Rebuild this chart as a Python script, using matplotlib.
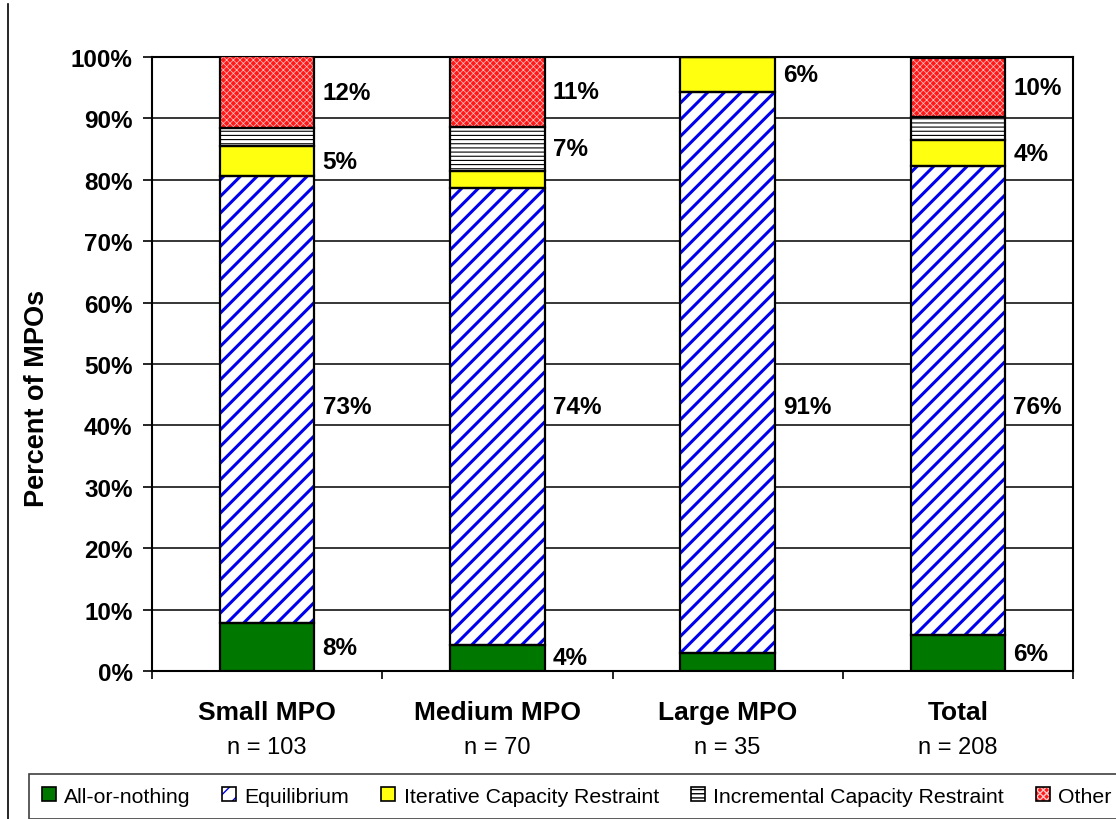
import numpy as np
import matplotlib
matplotlib.use("Agg")
import matplotlib.pyplot as plt
from matplotlib.patches import Patch
from matplotlib.lines import Line2D

plt.rcParams['font.family'] = ['Liberation Sans', 'DejaVu Sans']

# share of MPOs (percent) by assignment method
groups = ["Small MPO", "Medium MPO", "Large MPO", "Total"]
counts = ["n = 103", "n = 70", "n = 35", "n = 208"]
methods = ["All-or-nothing", "Equilibrium", "Iterative Capacity Restraint",
           "Incremental Capacity Restraint", "Other"]
all_or_nothing = [7.8, 4.3, 2.9, 5.8]
equilibrium = [72.8, 74.3, 91.4, 76.4]
iterative = [4.9, 2.9, 5.7, 4.3]
incremental = [2.9, 7.1, 0.0, 3.8]
other = [11.7, 11.4, 0.0, 9.6]

series = [all_or_nothing, equilibrium, iterative, incremental, other]
# face, hatch colour, hatch pattern, hatch width
styles = [
    ("#007800", "#007800", None, 1.0),
    ("white", "#0000ee", "//", 2.2),
    ("#ffff10", "#ffff10", None, 1.0),
    ("white", "black", "----", 0.8),
    ("#ff1a1a", "#ffc4c4", "xxxxx", 0.5),
]
EQ_LABEL_Y = 43  # equilibrium labels sit on one common line

fig = plt.figure(figsize=(11.16, 8.2), dpi=100)
ax = fig.add_axes([152/1116, 1-672/820, 921/1116, 614/820])

x = np.arange(len(groups))
width = 0.41
bottom = np.zeros(len(groups))
for k, (vals, (fc, hc, hatch, hlw)) in enumerate(zip(series, styles)):
    vals = np.array(vals)
    with plt.rc_context({'hatch.linewidth': hlw}):
        ax.bar(x, vals, width, bottom=bottom, color=fc, edgecolor=hc,
               hatch=hatch, linewidth=0, zorder=3)
    ax.bar(x, vals, width, bottom=bottom, fill=False, edgecolor="black",
           linewidth=1.6, zorder=4)
    for xi, v, b in zip(x, vals, bottom):
        if v >= 4:
            ypos = EQ_LABEL_Y if k == 1 else b + v/2
            ax.annotate("%d%%" % round(v), (xi + width/2, ypos),
                        xytext=(6, 0), textcoords="offset points",
                        ha="left", va="center", fontsize=17.5,
                        fontweight="bold", zorder=5)
    bottom += vals

ax.set_xlim(-0.5, 3.5)
ax.set_ylim(0, 100)
ax.set_yticks(np.arange(0, 101, 10))
ax.set_yticklabels(["%d%%" % v for v in range(0, 101, 10)],
                   fontsize=17.5, fontweight="bold")
ax.yaxis.grid(True, color="black", linewidth=1.1, zorder=0)
ax.set_axisbelow(True)
ax.tick_params(axis="y", direction="out", length=6.5, width=1.2, pad=7.5)

ax.set_xticks(x)
ax.set_xticklabels([])
ax.tick_params(axis="x", which="major", length=0)
ax.set_xticks(np.arange(-0.5, 4, 1), minor=True)
ax.tick_params(axis="x", which="minor", direction="out", length=6, width=1.2)

for s in ax.spines.values():
    s.set_linewidth(1.5)

for xi, g, n in zip(x, groups, counts):
    ax.annotate(g, (xi, 0), xycoords=("data", "axes fraction"),
                xytext=(0, -29.5), textcoords="offset points",
                ha="center", va="center", fontsize=19, fontweight="bold")
    ax.annotate(n, (xi, 0), xycoords=("data", "axes fraction"),
                xytext=(0, -54.5), textcoords="offset points",
                ha="center", va="center", fontsize=17)

ax.set_ylabel("Percent of MPOs", fontsize=19.5, fontweight="bold")
ax.yaxis.set_label_coords(-0.111, 0.445)

handles = []
for fc, hc, hatch, hlw in styles:
    with plt.rc_context({'hatch.linewidth': min(hlw, 1.0)}):
        inner = Patch(facecolor=fc, edgecolor=hc, hatch=hatch, linewidth=0)
    outer = Patch(fill=False, edgecolor="black", linewidth=1.2)
    handles.append((inner, outer))

leg = fig.legend(handles, methods, ncol=5, loc="upper left",
                 bbox_to_anchor=(29/1116, 1-775/820), borderaxespad=0,
                 fontsize=15.3, handlelength=0.65, handleheight=0.65,
                 handletextpad=0.4, columnspacing=1.5, borderpad=0.6,
                 fancybox=False, framealpha=1, edgecolor="#404040")
leg.get_frame().set_linewidth(1.2)

fig.add_artist(Line2D([8/1116, 8/1116], [0, 1-5/820], color="black",
                      linewidth=1.2, transform=fig.transFigure))

fig.savefig("out.png", dpi=100)
